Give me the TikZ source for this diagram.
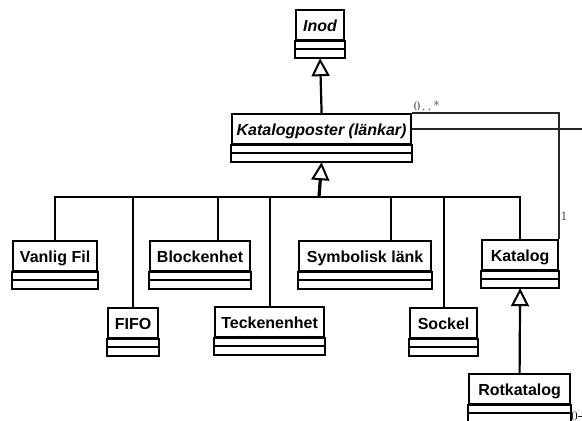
\documentclass[tikz,border=0pt]{standalone}
\usepackage{fontspec}
\newfontfamily\umlfont{Liberation Sans}
\usetikzlibrary{arrows.meta}

\tikzset{
  klass/.style={draw, line width=2.2pt, anchor=north west, inner sep=0pt,
    minimum height=30pt, text height=13pt, text depth=0pt,
    font=\umlfont\fontsize{16}{18}\selectfont\bfseries},
  abstract/.style={klass, font=\umlfont\fontsize{16}{18}\selectfont\bfseries\itshape},
  compline/.style={line width=2.2pt},
  busline/.style={line width=2.2pt},
  genline/.style={line width=2.2pt,
    -{Triangle[open, length=18pt, width=18pt, line width=2pt]}},
  assoc/.style={line width=1.5pt, black!85},
  mult/.style={font=\fontsize{13}{15}\selectfont, inner sep=1pt},
}

% class box: name part and two empty parts below it
\newcommand{\umlclass}[5][klass]{%
  \node[#1, minimum width=#4pt] (#2) at (#3) {#5};
  \draw[compline] (#2.south west) rectangle ([yshift=-8pt]#2.south east);
  \draw[compline] ([yshift=-8pt]#2.south west) rectangle ([yshift=-17pt]#2.south east);
  \coordinate (#2-bot) at ([yshift=-17pt]#2.south);
  \coordinate (#2-se) at ([yshift=-17pt]#2.south east);
}

\begin{document}
\begin{tikzpicture}[x=1pt, y=-1pt]
    \useasboundingbox (0,0) rectangle (582,421);
    \clip (0,0) rectangle (582,421);

    % Classes
    \umlclass[abstract]{inod}{295,9}{48}{Inod}
    \umlclass[abstract]{kpost}{231,113}{179}{Katalogposter (länkar)}
    \umlclass{vanlig}{12,240}{84}{Vanlig Fil}
    \umlclass{fifo}{107,307}{50}{FIFO}
    \umlclass{block}{149,240}{100}{Blockenhet}
    \umlclass{teck}{214,306}{109}{Teckenenhet}
    \umlclass{symlank}{298,240}{132}{Symbolisk länk}
    \umlclass{sockel}{409,307}{67}{Sockel}
    \umlclass{katalog}{481,239}{76}{Katalog}
    \umlclass{rotkat}{468,373}{101}{Rotkatalog}

    % Generalisations
    \draw[genline] (kpost.north) -- (inod-bot);
    \coordinate (bus) at (319,197);
    \draw[genline, line width=3.2pt] (bus) -- (kpost-bot);
    \foreach \k/\dx in {vanlig/0, fifo/0, block/18, teck/0.5, symlank/26, sockel/0.5, katalog/0}
      \draw[busline] (bus) -| ([xshift=\dx pt]\k.north);
    \draw[genline] (rotkat.north) -- (katalog-bot);

    % Associations
    \coordinate (edge) at (600,0);
    \draw[assoc] (kpost.north east) -| node[mult, pos=0, above right] (mstar) {0\kern1.5pt.\kern2.5pt.\kern2pt*}
      node[mult, pos=0.91, right] (mone) {1} (katalog.north east);
    \draw[assoc] (kpost.east) -- (kpost.east -| edge);
    \node[mult, anchor=west, inner sep=0pt] (mzero) at ([yshift=5.5pt]rotkat-se) {0};
    \draw[assoc] (mzero.east) -- (mzero.east -| edge);
\end{tikzpicture}
\end{document}
